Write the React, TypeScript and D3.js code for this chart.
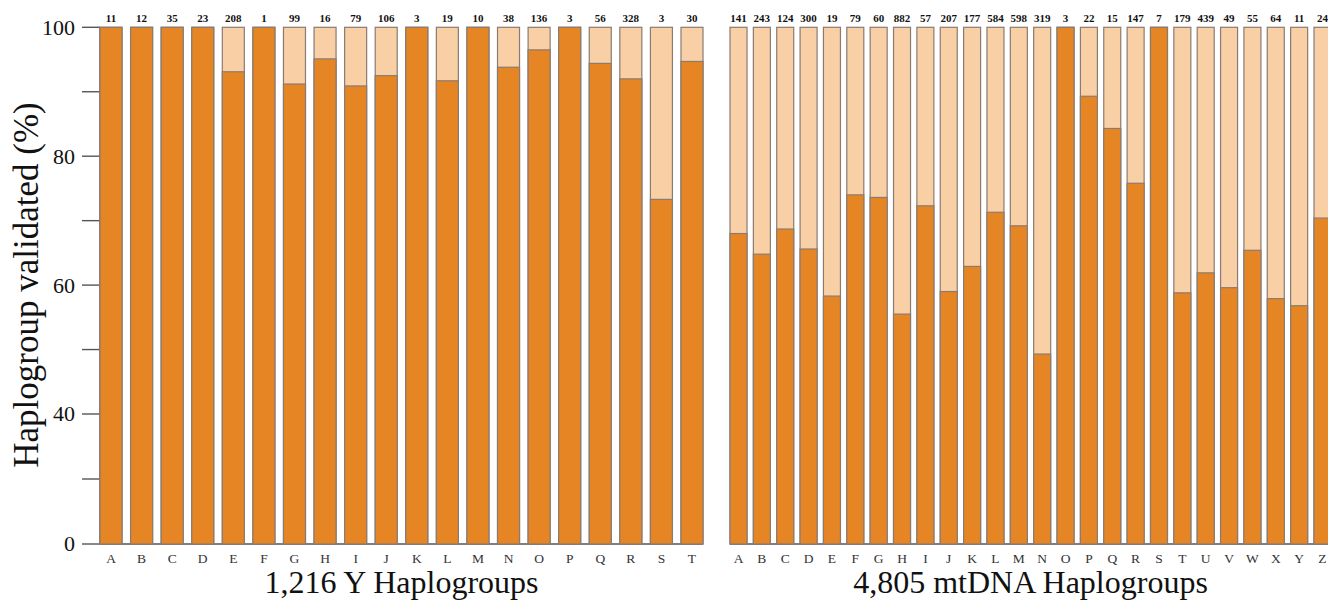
import * as d3 from 'd3';

// Y-chromosome haplogroups (left panel)
const Y_GROUPS = ['A','B','C','D','E','F','G','H','I','J','K','L','M','N','O','P','Q','R','S','T'];
const Y_COUNTS = [11, 12, 35, 23, 208, 1, 99, 16, 79, 106, 3, 19, 10, 38, 136, 3, 56, 328, 3, 30];
const Y_VALID = [100, 100, 100, 100, 93.1, 100, 91.2, 95.1, 90.9, 92.5, 100, 91.7, 100, 93.8, 96.5, 100, 94.4, 92.0, 73.3, 94.7];

// mtDNA haplogroups (right panel)
const MT_GROUPS = ['A','B','C','D','E','F','G','H','I','J','K','L','M','N','O','P','Q','R','S','T','U','V','W','X','Y','Z'];
const MT_COUNTS = [141, 243, 124, 300, 19, 79, 60, 882, 57, 207, 177, 584, 598, 319, 3, 22, 15, 147, 7, 179, 439, 49, 55, 64, 11, 24];
const MT_VALID = [68.0, 64.8, 68.7, 65.6, 58.3, 74.0, 73.6, 55.5, 72.3, 59.0, 62.9, 71.3, 69.2, 49.3, 100, 89.3, 84.3, 75.8, 100, 58.8, 61.9, 59.6, 65.4, 57.9, 56.8, 70.4];

const Y_TICKS = [0, 20, 40, 50, 60, 70, 80, 90, 100];
const Y_TICK_LABELS = [0, 40, 60, 80, 100];

const W = 1328, H = 602;
const DARK = '#e68523';
const LIGHT = '#f9cfa6';
const EDGE = '#8a7b72';
const AXIS = '#555';
const FONT = '"Liberation Serif", "Times New Roman", serif';

// the axis is compressed below 40
const y = d3.scaleLinear().domain([0, 40, 100]).range([544, 414, 27.3]);

function Panel({ groups, counts, valid, x0, x1, pad, title }) {
  const x = d3.scaleBand().domain(groups).range([x0, x1]).paddingInner(pad).paddingOuter(0);
  const bw = x.bandwidth();
  const mid = (x0 + x1) / 2;
  return (
    <g>
      <line x1={x0} x2={x1} y1={y(0)} y2={y(0)} stroke={AXIS} strokeWidth={1.4} />
      {groups.map((g, i) => {
        const bx = x(g);
        return (
          <g key={g}>
            <rect x={bx} y={y(100)} width={bw} height={y(0) - y(100)} fill={LIGHT} stroke={EDGE} strokeWidth={1.2} />
            <rect x={bx} y={y(valid[i])} width={bw} height={y(0) - y(valid[i])} fill={DARK} stroke={EDGE} strokeWidth={1.2} />
            <text x={bx + bw / 2} y={22} textAnchor="middle" fontSize={11} fontWeight="bold" fontFamily={FONT} fill="#111">
              {counts[i]}
            </text>
            <text x={bx + bw / 2} y={563} textAnchor="middle" fontSize={13.5} fontFamily={FONT} fill="#333">
              {g}
            </text>
          </g>
        );
      })}
      <text x={mid} y={593} textAnchor="middle" fontSize={32} fontFamily={FONT} fill="#111">{title}</text>
    </g>
  );
}

export default function App() {
  return (
    <svg width={W} height={H} viewBox={`0 0 ${W} ${H}`}
      style={{ position: 'absolute', left: 0, top: 0, background: '#fff', display: 'block' }}>
      {/* left y axis */}
      <line x1={100} x2={100} y1={y(100)} y2={y(0)} stroke={AXIS} strokeWidth={1.2} />
      {Y_TICKS.map(t => (
        <line key={t} x1={82} x2={100} y1={y(t)} y2={y(t)} stroke={AXIS} strokeWidth={1.4} />
      ))}
      {Y_TICK_LABELS.map(t => (
        <text key={t} x={75} y={y(t)} dy="0.34em" textAnchor="end" fontSize={22} fontFamily={FONT} fill="#111">{t}</text>
      ))}
      <text transform={`translate(38,285) rotate(-90)`} textAnchor="middle" fontSize={35} fontFamily={FONT} fill="#111">
        Haplogroup validated (%)
      </text>

      <Panel groups={Y_GROUPS} counts={Y_COUNTS} valid={Y_VALID} x0={100} x1={703} pad={0.28} title="1,216 Y Haplogroups" />
      <Panel groups={MT_GROUPS} counts={MT_COUNTS} valid={MT_VALID} x0={730} x1={1331} pad={0.272} title="4,805 mtDNA Haplogroups" />
    </svg>
  );
}
